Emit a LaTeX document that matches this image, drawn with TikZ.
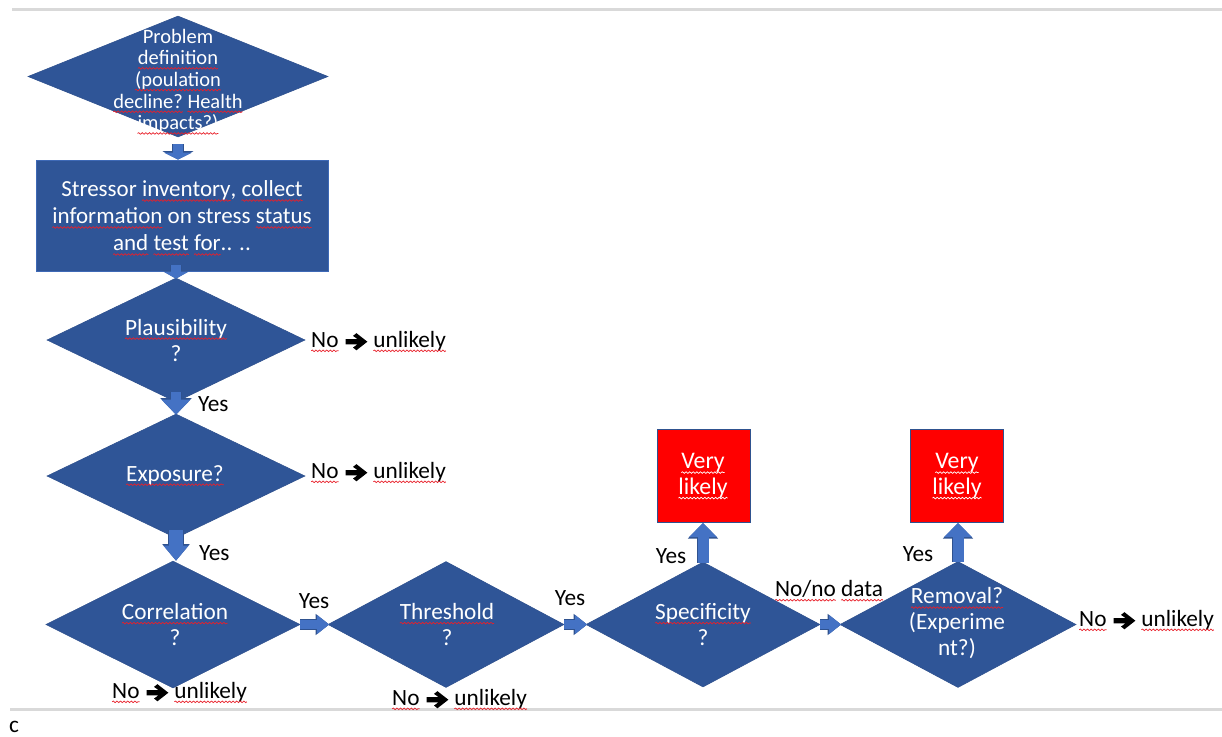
\documentclass[tikz,border=0pt]{standalone}
\usepackage{fontspec}
\setmainfont{Carlito}
\usetikzlibrary{shapes.geometric,arrows.meta,calc,decorations.pathmorphing}
\definecolor{dkblue}{HTML}{2F5597}
\definecolor{arblue}{HTML}{4472C4}
\definecolor{edgeblue}{HTML}{2F528F}
\definecolor{linegray}{HTML}{D9D9D9}
\definecolor{sqred}{HTML}{E8202A}
% wavy spell-check underline
\newcommand{\sq}[2][sqred]{\tikz[baseline=(sqw.base),x=1pt,y=1pt]{\node[inner sep=0pt,outer sep=0pt,anchor=base] (sqw) {#2};\draw[overlay,#1,line width=0.7pt,decorate,decoration={snake,amplitude=0.8pt,segment length=3.6pt}] ([yshift=-3.6pt]sqw.base west) -- ([yshift=-3.6pt]sqw.base east);}}
% heavy right arrow glyph
\newcommand{\harr}{\tikz[baseline=-5.5pt,x=1.15pt,y=0.9pt]{\fill[black] (0,2.9) -- (10.4,2.9) -- (6.5,6.5) -- (9.5,9.5) -- (19,0) -- (9.5,-9.5) -- (6.5,-6.5) -- (10.4,-2.9) -- (0,-2.9) -- cycle;}}
\newcommand{\noun}{\sq{No}\hspace{7pt}\harr\hspace{6pt}\sq{unlikely}}
% block arrow: from, to, shaft, head width, head length, and the same for the outline pass
\newcommand{\barr}[8]{%
  \draw[edgeblue, line width=#6, -{Triangle[width=#7,length=#8]}] #1 -- #2;
  \draw[arblue, line width=#3, -{Triangle[width=#4,length=#5]}] #1 -- #2;}
\tikzset{
  dia/.style={diamond, fill=dkblue, draw=edgeblue, line width=0.6pt, inner sep=0pt},
  bluebox/.style={rectangle, fill=dkblue, draw=arblue!70!dkblue, line width=0.8pt, inner sep=0pt},
  redbox/.style={rectangle, fill=red, draw=edgeblue, line width=1pt, inner sep=0pt, minimum width=93pt, minimum height=93pt},
  wtext/.style={text=white, align=center, inner sep=0pt, font=\fontsize{23.3}{26}\selectfont},
  lbl/.style={text=black, inner sep=0pt, font=\fontsize{23.3}{26}\selectfont},
  graybar/.style={draw=linegray, line width=3pt},
}
\begin{document}
\begin{tikzpicture}[x=1pt,y=-1pt]
\useasboundingbox (0,0) rectangle (1222,736);
% separator lines
\coordinate (gl1) at (12,9);
\coordinate (gr1) at (1222,9);
\coordinate (gl2) at (10,709);
\coordinate (gr2) at (1222,709);
\draw[graybar] (gl1) -- (gr1);
\draw[graybar] (gl2) -- (gr2);
\node[lbl, anchor=base west] (cc) at (9,732) {c};

% shapes
\node[dia, minimum width=300pt, minimum height=121pt] (d1) at (178,76.5) {};
\node[bluebox, minimum width=292pt, minimum height=111pt] (b1) at (182,215.5) {};
\node[dia, minimum width=258pt, minimum height=124pt] (d2) at (176,340) {};
\node[dia, minimum width=258pt, minimum height=124pt] (d3) at (176,476) {};
\node[dia, minimum width=254pt, minimum height=127pt] (d4) at (173,624.5) {};
\node[dia, minimum width=236pt, minimum height=126pt] (d5) at (446,624.5) {};
\node[dia, minimum width=234pt, minimum height=125pt] (d6) at (703,624.5) {};
\node[dia, minimum width=236pt, minimum height=126pt] (d7) at (958,624.5) {};
\node[redbox] (r1) at (703.5,476) {};
\node[redbox] (r2) at (956.5,476) {};

% texts inside shapes
\node[wtext, font=\fontsize{20.5}{21.7}\selectfont] (t1) at (178,81) {Problem\\\sq{definition}\\\sq{(poulation}\\\sq{decline?} \sq{Health}\\\sq{impacts?)}};
\node[wtext, font=\fontsize{23}{27}\selectfont] (tb1) at (182,216) {Stressor \sq{inventory}, \sq{collect}\\\sq{information} on stress \sq{status}\\\sq{and} \sq{test} \sq{for}.. ..};
\node[wtext] (t2) at (176,340) {\sq{Plausibility}\\?};
\node[wtext] (t3) at (175,475) {\sq{Exposure?}};
\node[wtext] (t4) at (175,624.5) {\sq{Correlation}\\?};
\node[wtext] (t5) at (447,624.5) {\sq{Threshold}\\?};
\node[wtext] (t6) at (703,624.5) {\sq{Specificity}\\?};
\node[wtext] (t7) at (957,623.5) {\sq{Removal?}\\(Experime\\nt?)};
\node[wtext, font=\fontsize{23.8}{25.5}\selectfont] (tr1) at (703,476) {\sq[white]{Very}\\\sq[white]{likely}};
\node[wtext, font=\fontsize{23.8}{25.5}\selectfont] (tr2) at (957,476) {\sq[white]{Very}\\\sq[white]{likely}};

% block arrows
\barr{($(d1.south)+(0,7)$)}{(d1.south |- b1.north)}{10pt}{28pt}{7pt}{11.4pt}{30.4pt}{8.4pt}
\barr{($(b1.south -| d2.north)+(0,-6)$)}{($(d2.north)+(0,1)$)}{10pt}{25pt}{7pt}{11.4pt}{27.4pt}{8.4pt}
\barr{($(d2.south)+(0,-10)$)}{($(d3.north)+(0,1)$)}{10pt}{28pt}{15pt}{11.4pt}{30.4pt}{16.6pt}
\barr{($(d3.south)+(0,-8)$)}{(d3.south |- d4.north)}{14pt}{24pt}{15pt}{15.4pt}{26.4pt}{16.6pt}
\barr{(d4.east)}{($(d5.west)+(1.5,0)$)}{9pt}{18pt}{12pt}{10.4pt}{20.4pt}{13.6pt}
\barr{(d5.east)}{($(d6.west)+(1.5,0)$)}{9pt}{18pt}{12pt}{10.4pt}{20.4pt}{13.6pt}
\barr{(d6.east)}{($(d7.west)+(1.5,0)$)}{9pt}{18pt}{12pt}{10.4pt}{20.4pt}{13.6pt}
\barr{($(d6.north)+(0,1)$)}{(d6.north |- r1.south)}{11pt}{27pt}{14pt}{12.4pt}{29.4pt}{15.6pt}
\barr{($(d7.north)+(0,1)$)}{(d7.north |- r2.south)}{11pt}{27pt}{14pt}{12.4pt}{29.4pt}{15.6pt}

% labels
\node[lbl, anchor=west] (n2) at (311,341) {\noun};
\node[lbl, anchor=west] (n3) at (311,472) {\noun};
\node[lbl, anchor=west] (y2) at (198,404) {Yes};
\node[lbl, anchor=west] (y3) at (199,553) {Yes};
\node[lbl, anchor=west] (n4) at (112,692) {\noun};
\node[lbl, anchor=west] (n5) at (392,699) {\noun};
\node[lbl] (y4) at (314,601) {Yes};
\node[lbl] (y5) at (570,598) {Yes};
\node[lbl] (y6) at (671,556) {Yes};
\node[lbl] (n6) at (829,589) {\sq{No/no} \sq{data}};
\node[lbl] (y7) at (918,554) {Yes};
\node[lbl, anchor=west] (n7) at (1079,620) {\noun};
\end{tikzpicture}
\end{document}
